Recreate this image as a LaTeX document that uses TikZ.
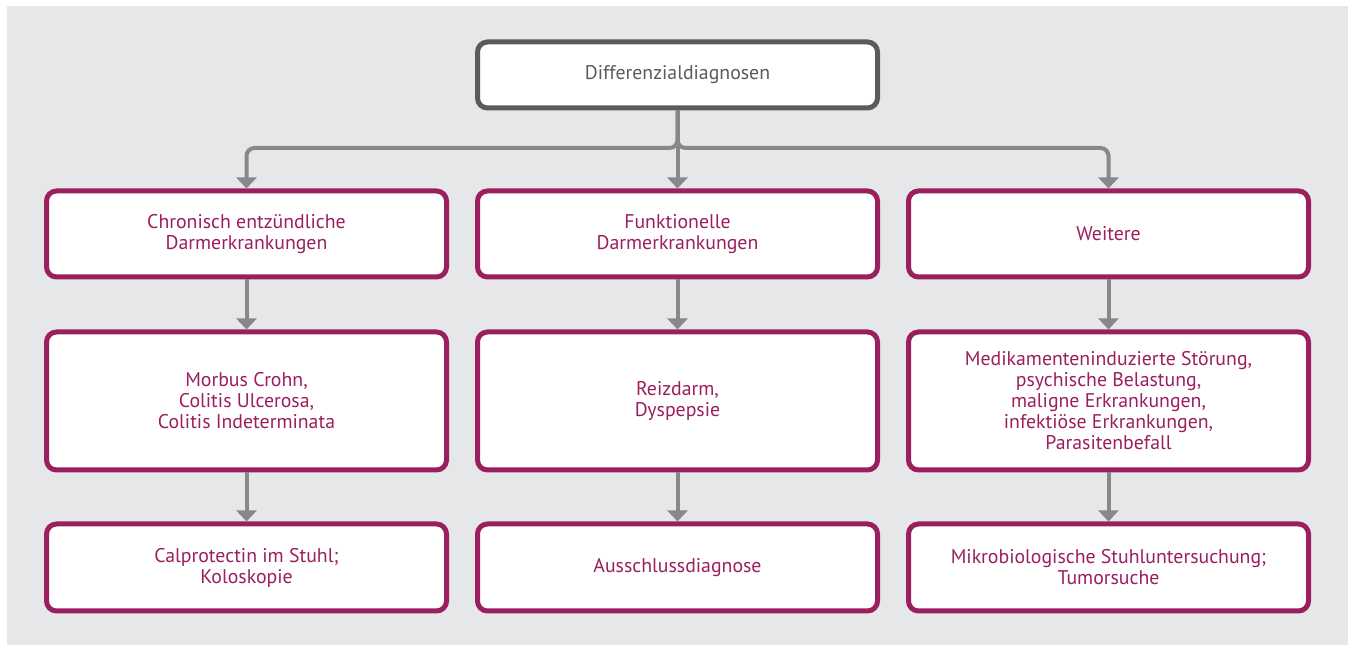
\documentclass[tikz,border=0pt]{standalone}
\usepackage{fontspec}
\setmainfont{PT Sans}
\usetikzlibrary{arrows.meta}
\definecolor{ddmagenta}{HTML}{9B1F5E}
\definecolor{ddgray}{HTML}{87888A}
\definecolor{dddark}{HTML}{5A5B5D}
\definecolor{ddback}{HTML}{E6E7E8}

\begin{document}
\begin{tikzpicture}[x=0.5pt,y=-0.5pt,
  box/.style={draw=ddmagenta,line width=2.5pt,rounded corners=5pt,fill=white,
    minimum width=200pt,text=ddmagenta,align=center,
    font=\fontsize{9.9}{10.5}\selectfont},
  topbox/.style={box,draw=dddark,text=dddark},
  link/.style={draw=ddgray,line width=2pt,rounded corners=4pt,
    -{Triangle[width=10pt,length=5.5pt]}}]
  \useasboundingbox (0,0) rectangle (1355,651);
  \fill[ddback] (7,6) rectangle (1348,645);
  % top
  \node[topbox,minimum height=33pt] (diff) at (677.5,75) {Differenzialdiagnosen};
  % first row
  \node[box,minimum height=43pt] (ced) at (246.5,234) {Chronisch entzündliche\\Darmerkrankungen};
  \node[box,minimum height=43pt] (fde) at (677.5,234) {Funktionelle\\Darmerkrankungen};
  \node[box,minimum height=43pt] (wei) at (1108.5,234) {Weitere};
  % second row
  \node[box,minimum height=69pt] (mc) at (246.5,401) {Morbus Crohn,\\Colitis Ulcerosa,\\Colitis Indeterminata};
  \node[box,minimum height=69pt] (rd) at (677.5,401) {Reizdarm,\\Dyspepsie};
  \node[box,minimum height=69pt] (med) at (1108.5,401) {Medikamenteninduzierte Störung,\\psychische Belastung,\\maligne Erkrankungen,\\infektiöse Erkrankungen,\\Parasitenbefall};
  % third row
  \node[box,minimum height=43.5pt] (cal) at (246.5,567.5) {Calprotectin im Stuhl;\\Koloskopie};
  \node[box,minimum height=43.5pt] (aus) at (677.5,567.5) {Ausschlussdiagnose};
  \node[box,minimum height=43.5pt] (mik) at (1108.5,567.5) {Mikrobiologische Stuhluntersuchung;\\Tumorsuche};
  \coordinate (bus) at (677.5,148);
  \draw[link] (diff.south) -- (bus) -| (ced.north);
  \draw[link] (diff.south) -- (fde.north);
  \draw[link] (diff.south) -- (bus) -| (wei.north);
  \foreach \a/\b in {ced/mc,fde/rd,wei/med,mc/cal,rd/aus,med/mik}
    \draw[link] (\a.south) -- (\b.north);
\end{tikzpicture}
\end{document}
